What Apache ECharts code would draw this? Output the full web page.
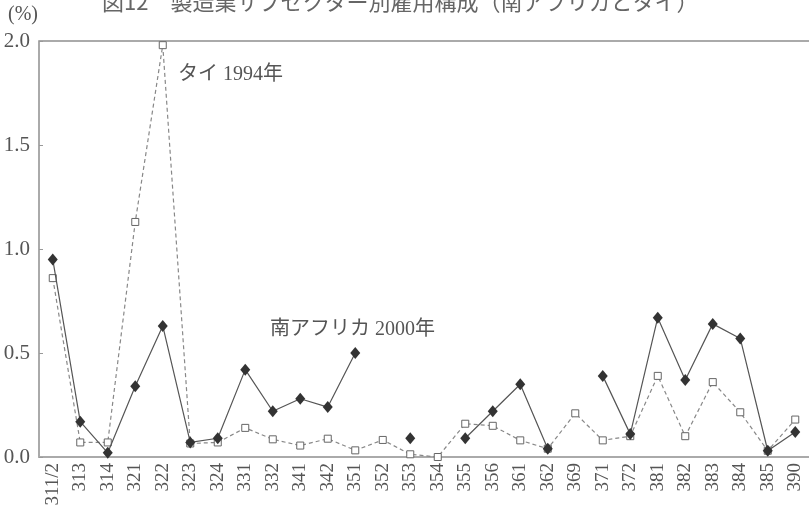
<!DOCTYPE html>
<html>
<head>
<meta charset="utf-8">
<script src="https://cdn.jsdelivr.net/npm/echarts@6/dist/echarts.min.js"></script>
<style>html,body{margin:0;padding:0;background:#fff}#c{width:809px;height:520px}</style>
</head>
<body>
<div id="c"></div>
<script>
const categories = ['311/2','313','314','321','322','323','324','331','332','341','342','351','352','353','354','355','356','361','362','369','371','372','381','382','383','384','385','390'];
const southAfrica2000 = [0.95,0.17,0.02,0.34,0.63,0.07,0.09,0.42,0.22,0.28,0.24,0.50,'-',0.09,'-',0.09,0.22,0.35,0.04,'-',0.39,0.11,0.67,0.37,0.64,0.57,0.03,0.12];
const thailand1994 = [0.86,0.07,0.07,1.13,1.98,0.065,0.07,0.14,0.085,0.055,0.088,0.032,0.082,0.013,0.0,0.16,0.15,0.08,0.04,0.21,0.08,0.10,0.39,0.10,0.36,0.215,0.03,0.18];
const yTicks = ['0.0','0.5','1.0','1.5','2.0'];

const serif = '"Liberation Serif", "Noto Sans CJK JP", serif';
const chart = echarts.init(document.getElementById('c'), null, {renderer: 'canvas'});
chart.setOption({
  animation: false,
  backgroundColor: '#fff',
  grid: {left: 39, right: -1, top: 41, bottom: 63},
  xAxis: {
    type: 'category',
    data: categories,
    boundaryGap: true,
    axisLine: {lineStyle: {color: '#aaa', width: 2}},
    axisTick: {inside: true, length: 5, lineStyle: {color: '#999', width: 1}},
    axisLabel: {rotate: 90, interval: 0, margin: 6, color: '#555', fontFamily: serif, fontSize: 19}
  },
  yAxis: {
    type: 'value',
    min: 0, max: 2, interval: 0.5,
    axisLine: {show: true, lineStyle: {color: '#aaa', width: 2}},
    axisTick: {show: true, inside: true, length: 4, lineStyle: {color: '#999'}},
    axisLabel: {color: '#555', fontFamily: serif, fontSize: 21, margin: 9,
      formatter: (v) => yTicks[Math.round(v / 0.5)]},
    splitLine: {show: true, lineStyle: {color: ['transparent','transparent','transparent','transparent','#aaa'], width: 2}}
  },
  series: [
    {
      name: 'タイ 1994年', type: 'line', data: thailand1994,
      symbol: 'rect', symbolSize: 7, showSymbol: true,
      lineStyle: {color: '#888', width: 1.2, type: [4, 3]},
      itemStyle: {color: '#fff', borderColor: '#666', borderWidth: 1},
      z: 2
    },
    {
      name: '南アフリカ 2000年', type: 'line', data: southAfrica2000,
      symbol: 'diamond', symbolSize: [10, 12], showSymbol: true, connectNulls: false,
      lineStyle: {color: '#555', width: 1.2},
      itemStyle: {color: '#333'},
      z: 3
    }
  ],
  graphic: [
    {type: 'text', left: 102, top: -9, style: {text: '図12　製造業サブセクター別雇用構成（南アフリカとタイ）', font: '22px "Noto Sans CJK JP"', fill: '#666'}},
    {type: 'text', left: 8, top: 5, style: {text: '(%)', font: '20px "Liberation Serif"', fill: '#555'}},
    {type: 'text', left: 178, top: 65, style: {text: 'タイ 1994年', font: '20px "Liberation Serif", "Noto Sans CJK JP"', fill: '#555'}},
    {type: 'text', left: 270, top: 320, style: {text: '南アフリカ 2000年', font: '20px "Liberation Serif", "Noto Sans CJK JP"', fill: '#555'}}
  ]
});
</script>
</body>
</html>
